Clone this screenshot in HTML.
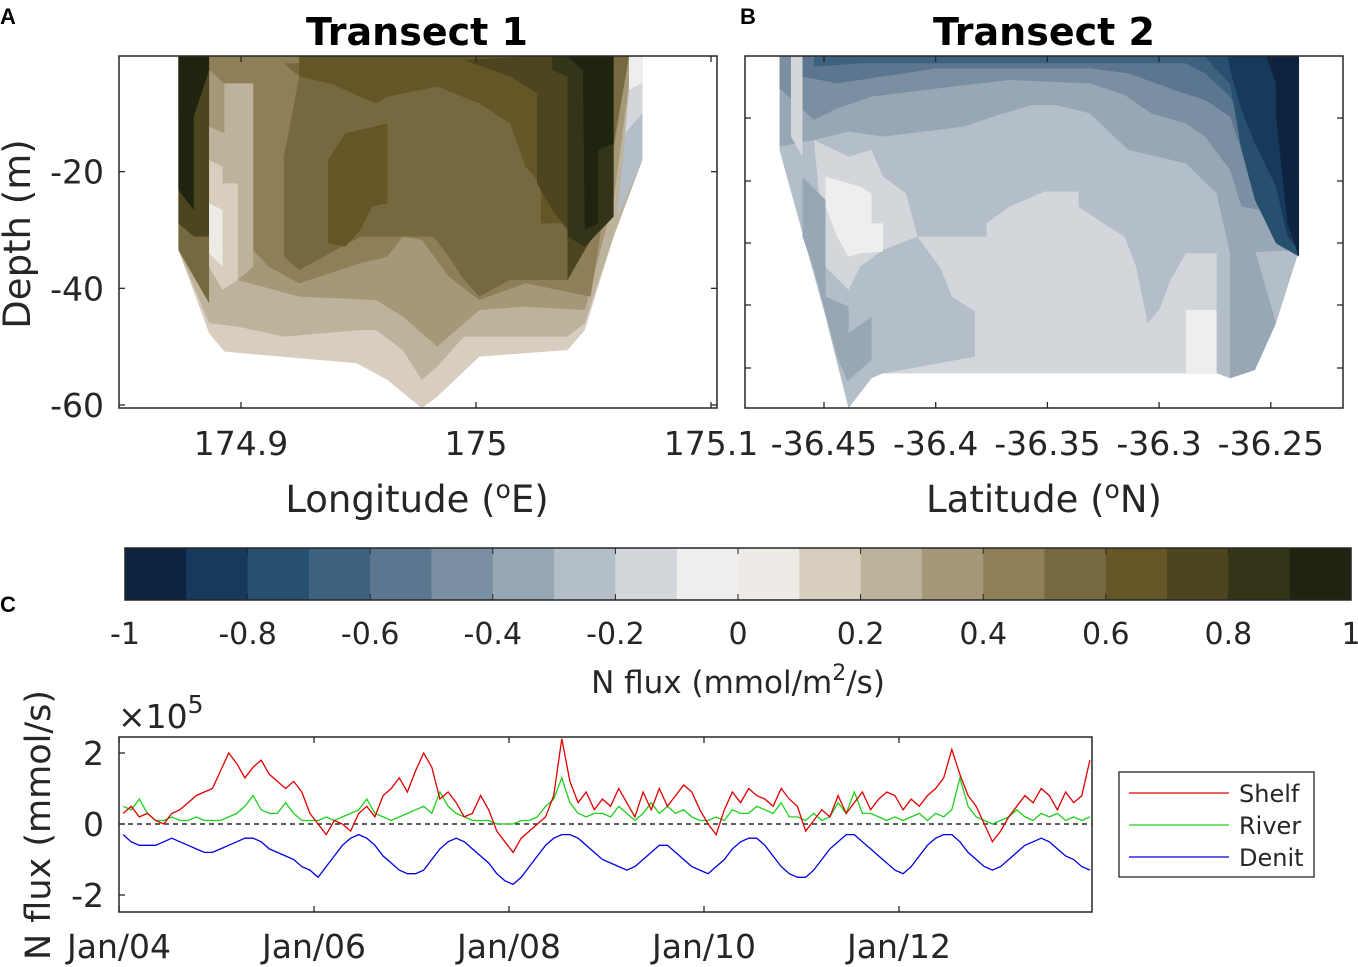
<!DOCTYPE html>
<html><head><meta charset="utf-8"><style>
body{margin:0;background:#fff;}
svg{display:block;font-family:"DejaVu Sans","Liberation Sans",sans-serif;}
</style></head><body>
<svg id="fig" width="1358" height="967" viewBox="0 0 1358 967">
<rect width="1358" height="967" fill="#fff"/>
<!-- Panel A -->
<g>
<text x="0" y="24" font-size="22" font-weight="bold" font-family="Liberation Sans">A</text>
<text x="417" y="45" font-size="38" font-weight="bold" text-anchor="middle">Transect 1</text>
<g transform="translate(119,50) scale(0.3834,0.3333)">
<polygon fill="#d8cebf" points="155,20 1365,20 1365,330 1290,560 1215,840 1170,900 940,920 830,1040 790,1075 700,990 620,940 275,905 235,850 155,600"/>
<polygon fill="#bdb29b" points="155,20 1365,20 1365,330 1290,560 1215,820 1170,860 900,860 830,950 790,990 740,900 670,840 630,840 430,860 310,830 235,820 155,600"/>
<polygon fill="#a59878" points="155,20 1340,20 1290,450 1215,780 1060,770 940,780 830,890 740,800 670,750 470,740 310,690 275,690 275,250 235,230 155,200"/>
<polygon fill="#8e7f58" points="235,20 1330,20 1290,300 1230,740 1060,700 940,750 860,680 790,570 740,560 700,620 630,640 470,700 390,650 350,600 350,100 275,100 235,60"/>
<polygon fill="#77693f" points="430,40 1330,20 1290,280 1170,690 1020,690 940,740 900,690 860,620 820,560 740,560 630,560 470,660 430,620 430,320 470,80"/>
<polygon fill="#645627" points="470,20 1290,20 1290,400 1215,520 1100,520 1100,400 1060,350 1020,220 940,160 830,110 700,140 670,160 550,100 470,80"/>
<polygon fill="#645627" points="545,330 590,250 700,220 700,460 660,470 630,540 590,590 545,580"/>
<polygon fill="#4d4520" points="1050,20 1290,20 1290,460 1215,600 1170,690 1170,540 1130,480 1090,400 1090,130 1020,80 900,30"/>
<polygon fill="#343418" points="1130,20 1290,20 1290,500 1215,590 1170,560 1170,80 1130,60"/>
<polygon fill="#1f2410" points="1170,20 1290,20 1290,280 1250,300 1250,520 1215,540 1210,60"/>
<polygon fill="#77693f" points="155,20 235,20 235,760 155,600"/>
<polygon fill="#4d4520" points="155,20 235,20 235,560 195,560 155,520"/>
<polygon fill="#1f2410" points="155,20 235,20 235,60 195,200 195,480 155,420"/>
<polygon fill="#bdb29b" points="235,230 275,250 275,100 350,100 350,650 310,690 275,690 235,650"/>
<polygon fill="#d8cebf" points="235,330 270,350 270,400 310,400 310,690 270,720 235,650"/>
<polygon fill="#eeebe6" points="235,460 270,480 270,650 235,610"/>
<polygon fill="#eeeeee" points="1330,20 1365,20 1365,100 1330,120"/>
<polygon fill="#d3d7dc" points="1330,120 1365,100 1365,190 1320,250"/>
<polygon fill="#b4bec8" points="1320,250 1365,190 1365,330 1300,500"/>
</g>
<rect x="119" y="56" width="598" height="352" fill="none" stroke="#262626" stroke-width="1.5"/>
<g id="axA" stroke="#262626" stroke-width="1.3"></g>
<g id="axAtext" font-size="33" fill="#262626"></g>
<text x="417" y="512" font-size="37" text-anchor="middle" fill="#262626">Longitude (<tspan dy="-14" font-size="25">o</tspan><tspan dy="14">E)</tspan></text>
<text transform="translate(30,234) rotate(-90)" font-size="37" text-anchor="middle" fill="#262626">Depth (m)</text>
</g>
<!-- Panel B -->
<g>
<text x="740" y="24" font-size="22" font-weight="bold" font-family="Liberation Sans">B</text>
<text x="1044" y="45" font-size="38" font-weight="bold" text-anchor="middle">Transect 2</text>
<g transform="translate(745,50) scale(0.3834,0.3333)">
<polygon fill="#b4bec8" points="90,20 1445,20 1440,620 1385,820 1330,960 1265,985 1230,970 360,970 330,985 270,1075 210,800 90,300"/>
<polygon fill="#97a7b5" points="90,20 1445,20 1445,600 1265,610 1230,430 1150,340 1000,300 935,230 900,190 810,165 750,165 660,195 570,230 360,260 270,245 180,270 90,290"/>
<polygon fill="#7b8fa2" points="90,20 1445,20 1445,500 1295,470 1265,360 1200,260 1150,220 1060,190 990,135 900,100 690,90 540,110 330,140 240,175 180,210 90,115"/>
<polygon fill="#5d7690" points="150,20 1445,20 1445,400 1330,380 1295,300 1265,200 1200,150 1120,120 1000,70 900,55 500,55 300,90 240,100 150,80"/>
<polygon fill="#3f6180" points="180,20 1445,20 1445,330 1330,260 1295,200 1265,140 1200,70 1150,40 300,40 180,50"/>
<polygon fill="#27506f" points="1200,20 1445,20 1445,620 1385,580 1330,450 1295,300 1265,100 1230,60"/>
<polygon fill="#173a5c" points="1260,20 1445,20 1445,600 1415,560 1385,410 1330,280 1295,180 1265,60"/>
<polygon fill="#0e2340" points="1360,20 1445,20 1445,620 1415,520 1385,200 1385,100"/>
<polygon fill="#d3d7dc" points="360,970 480,945 600,920 600,785 540,740 510,655 450,560 630,560 630,520 690,470 780,425 870,425 870,470 935,520 990,560 1020,650 1050,820 1080,780 1110,690 1150,610 1230,610 1230,970"/>
<polygon fill="#d3d7dc" points="180,270 270,320 330,300 360,380 420,430 450,560 360,600 300,650 270,720 210,650"/>
<polygon fill="#eeeeee" points="210,380 300,410 330,430 330,520 360,520 360,605 300,610 270,620 240,560 210,470"/>
<polygon fill="#d3d7dc" points="120,20 150,20 150,320 120,260"/>
<polygon fill="#97a7b5" points="150,380 210,450 210,740 270,770 270,1000 240,920 180,660 150,560"/>
<polygon fill="#97a7b5" points="270,850 330,800 330,930 270,990"/>
<polygon fill="#eeeeee" points="1150,780 1230,780 1230,970 1150,970"/>
<polygon fill="#97a7b5" points="1265,600 1330,600 1385,820 1330,960 1265,985"/>
</g>
<rect x="745" y="56" width="598" height="352" fill="none" stroke="#262626" stroke-width="1.5"/>
<g id="axB" stroke="#262626" stroke-width="1.3"></g>
<g id="axBtext" font-size="33" fill="#262626"></g>
<text x="1044" y="512" font-size="37" text-anchor="middle" fill="#262626">Latitude (<tspan dy="-14" font-size="25">o</tspan><tspan dy="14">N)</tspan></text>
</g>
<!-- Colorbar -->
<g id="cbar"></g>
<text x="738" y="693" font-size="31" text-anchor="middle" fill="#262626">N flux (mmol/m<tspan dy="-13" font-size="22">2</tspan><tspan dy="13">/s)</tspan></text>
<!-- Panel C -->
<g>
<text x="0" y="612" font-size="22" font-weight="bold" font-family="Liberation Sans">C</text>
<text x="118" y="728" font-size="33" fill="#262626">×10<tspan dy="-15" font-size="25">5</tspan></text>
<text transform="translate(50,825) rotate(-90)" font-size="35" text-anchor="middle" fill="#262626">N flux (mmol/s)</text>
<g id="series"></g>
<rect x="119" y="737" width="973" height="175" fill="none" stroke="#262626" stroke-width="1.5"/>
<g id="axC" stroke="#262626" stroke-width="1.3"></g>
<g id="axCtext" font-size="33" fill="#262626"></g>
<g>
<rect x="1119" y="772" width="195" height="105" fill="#fff" stroke="#262626" stroke-width="1.3"/>
<line x1="1129" y1="793" x2="1229" y2="793" stroke="#e00000" stroke-width="1.3"/>
<text x="1239" y="802" font-size="24" fill="#262626">Shelf</text>
<line x1="1129" y1="825" x2="1229" y2="825" stroke="#20d020" stroke-width="1.3"/>
<text x="1239" y="834" font-size="24" fill="#262626">River</text>
<line x1="1129" y1="857" x2="1229" y2="857" stroke="#0000e0" stroke-width="1.3"/>
<text x="1239" y="866" font-size="24" fill="#262626">Denit</text>
</g>
</g>
</svg>
<script>
const NS='http://www.w3.org/2000/svg';
// ---- data ----
const cbColors=['#0e2340','#173a5c','#27506f','#3f6180','#5d7690','#7b8fa2','#97a7b5','#b4bec8','#d3d7dc','#eeeeee','#eeebe6','#d8cebf','#bdb29b','#a59878','#8e7f58','#77693f','#645627','#4d4520','#343418','#1f2410'];
const cbTicks=[-1,-0.8,-0.6,-0.4,-0.2,0,0.2,0.4,0.6,0.8,1];
const cbTickLabels=['-1','-0.8','-0.6','-0.4','-0.2','0','0.2','0.4','0.6','0.8','1'];
const aXTicks=[174.9,175,175.1];
const aXLabels=['174.9','175','175.1'];
const aYTicks=[-20,-40,-60];
const aYLabels=['-20','-40','-60'];
const bXTicks=[-36.45,-36.4,-36.35,-36.3,-36.25];
const bXLabels=['-36.45','-36.4','-36.35','-36.3','-36.25'];
const cYTicks=[2,0,-2];
const cYLabels=['2','0','-2'];
const cXTicks=[2004,2006,2008,2010,2012];
const cXLabels=['Jan/04','Jan/06','Jan/08','Jan/10','Jan/12'];
const shelf=[0.3,0.5,0.2,0.3,0.1,0.0,0.3,0.4,0.6,0.8,0.9,1.0, 1.5,2.0,1.7,1.3,1.6,1.8,1.4,1.2,1.0,1.2,0.9,0.3, 0.0,-0.3,0.1,0.0,-0.2,0.3,0.5,0.2,0.8,1.0,1.3,0.9, 1.5,2.0,1.6,0.7,0.9,0.6,0.2,0.3,0.8,0.4,-0.2,-0.5, -0.8,-0.4,-0.2,0.0,0.2,0.8,2.4,1.2,0.6,0.9,0.4,0.7, 0.5,1.0,0.6,0.2,0.9,0.4,1.0,0.5,0.8,1.1,0.9,0.4, 0.0,-0.3,0.4,0.9,0.6,1.0,0.8,0.7,0.5,1.0,0.7,0.5, -0.2,0.1,0.4,0.2,0.8,0.3,0.6,0.9,0.4,0.7,0.9,0.8, 0.4,0.7,0.5,0.8,1.0,1.3,2.1,1.4,0.8,0.5,0.0,-0.5, -0.2,0.2,0.5,0.8,0.6,1.0,0.8,0.4,0.9,0.6,0.8,1.8];
const river=[0.5,0.4,0.7,0.3,0.1,0.1,0.2,0.1,0.1,0.2,0.1,0.1, 0.1,0.2,0.3,0.5,0.8,0.4,0.3,0.3,0.6,0.3,0.1,0.1, 0.1,0.2,0.1,0.2,0.3,0.4,0.7,0.3,0.2,0.1,0.2,0.3, 0.4,0.5,0.3,0.9,0.5,0.3,0.2,0.1,0.1,0.1,0.0,0.0, 0.0,0.1,0.1,0.2,0.5,0.7,1.3,0.6,0.3,0.2,0.3,0.3, 0.2,0.5,0.3,0.1,0.3,0.6,0.3,0.5,0.3,0.4,0.2,0.1, 0.1,0.2,0.1,0.4,0.3,0.3,0.5,0.4,0.3,0.6,0.2,0.2, 0.1,0.3,0.1,0.2,0.6,0.3,0.9,0.3,0.3,0.2,0.1,0.2, 0.1,0.2,0.3,0.1,0.3,0.2,0.4,1.3,0.5,0.2,0.1,0.0, 0.1,0.2,0.4,0.2,0.1,0.3,0.2,0.3,0.1,0.2,0.1,0.2];
const denit=[-0.3,-0.5,-0.6,-0.6,-0.6,-0.5,-0.4,-0.5,-0.6,-0.7,-0.8,-0.8, -0.7,-0.6,-0.5,-0.4,-0.4,-0.5,-0.7,-0.8,-0.9,-1.0,-1.2,-1.3, -1.5,-1.2,-0.9,-0.6,-0.4,-0.3,-0.4,-0.6,-0.9,-1.1,-1.3,-1.4, -1.4,-1.3,-1.0,-0.7,-0.5,-0.4,-0.5,-0.7,-0.9,-1.1,-1.4,-1.6, -1.7,-1.5,-1.2,-0.9,-0.6,-0.4,-0.3,-0.3,-0.4,-0.6,-0.8,-1.0, -1.1,-1.2,-1.3,-1.2,-1.0,-0.8,-0.6,-0.6,-0.8,-1.0,-1.2,-1.3, -1.4,-1.2,-1.0,-0.7,-0.5,-0.4,-0.4,-0.6,-0.9,-1.2,-1.4,-1.5, -1.5,-1.3,-1.0,-0.7,-0.5,-0.3,-0.3,-0.5,-0.7,-0.9,-1.1,-1.3, -1.4,-1.2,-0.9,-0.6,-0.4,-0.3,-0.3,-0.5,-0.8,-1.0,-1.2,-1.3, -1.2,-1.0,-0.8,-0.6,-0.5,-0.4,-0.5,-0.7,-0.9,-1.0,-1.2,-1.3];
// ---- scales ----
const axAx=v=>241+(v-174.9)*2350;
const axAy=v=>55+(-v)*5.833;
const axBx=v=>824+(v+36.45)*2234;
const cbx=v=>125+(v+1)*613;
const cx=t=>119+(t-2004)*97.5;
const cy=v=>824-v*35.5;
function el(tag,attrs,parent){const e=document.createElementNS(NS,tag);for(const k in attrs)e.setAttribute(k,attrs[k]);parent.appendChild(e);return e;}
// Panel A ticks
const gA=document.getElementById('axA'),tA=document.getElementById('axAtext');
aXTicks.forEach((v,i)=>{const x=axAx(v);el('line',{x1:x,y1:408,x2:x,y2:402},gA);el('line',{x1:x,y1:56,x2:x,y2:62},gA);
const t=el('text',{x:x,y:455,'text-anchor':'middle'},tA);t.textContent=aXLabels[i];

});
aYTicks.forEach((v,i)=>{const y=axAy(v);el('line',{x1:119,y1:y,x2:125,y2:y},gA);el('line',{x1:717,y1:y,x2:711,y2:y},gA);
const t=el('text',{x:104,y:y+12,'text-anchor':'end'},tA);t.textContent=aYLabels[i];

});
// Panel B ticks
const gB=document.getElementById('axB'),tB=document.getElementById('axBtext');
bXTicks.forEach((v,i)=>{const x=axBx(v);el('line',{x1:x,y1:408,x2:x,y2:402},gB);el('line',{x1:x,y1:56,x2:x,y2:62},gB);
const t=el('text',{x:x,y:455,'text-anchor':'middle'},tB);t.textContent=bXLabels[i];

});
[118,181,243,305,368].forEach(y=>{el('line',{x1:745,y1:y,x2:751,y2:y},gB);el('line',{x1:1343,y1:y,x2:1337,y2:y},gB);});
// Colorbar
const cb=document.getElementById('cbar');const bw=1226/cbColors.length;
cbColors.forEach((c,i)=>{const r=el('rect',{x:125+i*bw,y:548,width:bw+0.5,height:52,fill:c},cb);

});
el('rect',{x:125,y:548,width:1226,height:52,fill:'none',stroke:'#262626','stroke-width':1.5},cb);
cbTicks.forEach((v,i)=>{const x=cbx(v);el('line',{x1:x,y1:600,x2:x,y2:594,stroke:'#262626'},cb);el('line',{x1:x,y1:548,x2:x,y2:554,stroke:'#262626'},cb);
const t=el('text',{x:x,y:644,'text-anchor':'middle','font-size':30,fill:'#262626'},cb);t.textContent=cbTickLabels[i];

});
// Panel C
const gC=document.getElementById('axC'),tC=document.getElementById('axCtext'),sC=document.getElementById('series');
cXTicks.forEach((v,i)=>{const x=cx(v);el('line',{x1:x,y1:912,x2:x,y2:906},gC);el('line',{x1:x,y1:737,x2:x,y2:743},gC);
const t=el('text',{x:x,y:958,'text-anchor':'middle'},tC);t.textContent=cXLabels[i];

});
cYTicks.forEach((v,i)=>{const y=cy(v);el('line',{x1:119,y1:y,x2:125,y2:y},gC);
const t=el('text',{x:104,y:y+12,'text-anchor':'end'},tC);t.textContent=cYLabels[i];

});
const zl=el('line',{x1:119,y1:cy(0),x2:1092,y2:cy(0),stroke:'#000','stroke-dasharray':'5,4','stroke-width':1.3},sC);


function series(arr,color,name){const pts=arr.map((v,i)=>cx(2004+(i+0.5)/12).toFixed(1)+','+cy(v).toFixed(1)).join(' ');
const p=el('polyline',{points:pts,fill:'none',stroke:color,'stroke-width':1.3},sC);

}
series(river,'#20d020','river-line');
series(shelf,'#e00000','shelf-line');
series(denit,'#0000e0','denit-line');
</script>
</body></html>
